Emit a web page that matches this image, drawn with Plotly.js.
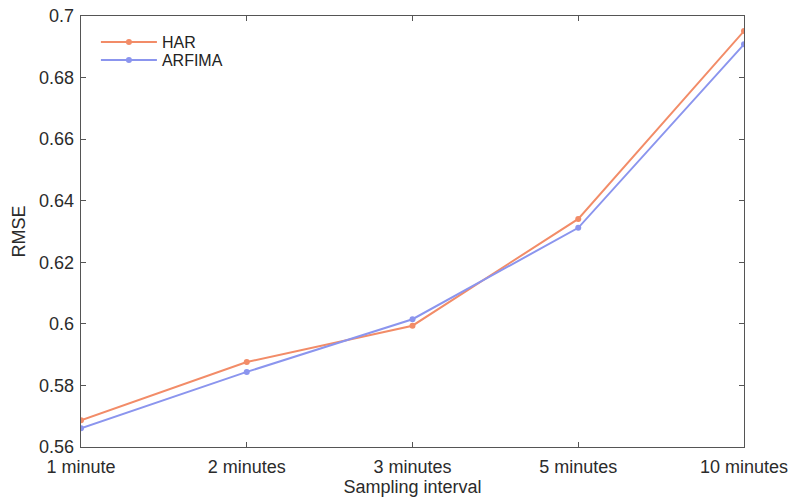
<!DOCTYPE html>
<html>
<head>
<meta charset="utf-8">
<script src="https://cdn.plot.ly/plotly-3.0.1.min.js"></script>
<style>
  html, body { margin: 0; padding: 0; background: #fff; }
  #chart { width: 790px; height: 499px; }
</style>
</head>
<body>
<div id="chart"></div>
<script>
// Sampling intervals on the x axis
const intervals = ["1 minute", "2 minutes", "3 minutes", "5 minutes", "10 minutes"];
// Out-of-sample RMSE per model
const harRmse = [0.5687, 0.5876, 0.5994, 0.6341, 0.6951];
const arfimaRmse = [0.5661, 0.5844, 0.6015, 0.6312, 0.6908];
const yTicks = [0.56, 0.58, 0.6, 0.62, 0.64, 0.66, 0.68, 0.7];
const yTickText = ["0.56", "0.58", "0.6", "0.62", "0.64", "0.66", "0.68", "0.7"];

const family = "Liberation Sans, Arial, Helvetica, sans-serif";
const font = { family: family, size: 18, color: "#2b2b2b" };

const traces = [
  {
    x: intervals, y: harRmse, name: "HAR", type: "scatter", mode: "lines+markers",
    line: { color: "#f28c68", width: 2 },
    marker: { color: "#f28c68", size: 6 },
    legend: "legend"
  },
  {
    x: intervals, y: arfimaRmse, name: "ARFIMA", type: "scatter", mode: "lines+markers",
    line: { color: "#8b95ee", width: 2 },
    marker: { color: "#8b95ee", size: 6 },
    legend: "legend2"
  }
];

const axisCommon = {
  showline: true, linecolor: "#555", linewidth: 1.3, mirror: "ticks",
  ticks: "inside", ticklen: 5, tickcolor: "#555", tickwidth: 1,
  showgrid: false, zeroline: false, tickfont: font
};

// Two stacked legend boxes keep the entries tightly spaced
const legendCommon = {
  x: 0.0225, xanchor: "left", yanchor: "top",
  bgcolor: "rgba(0,0,0,0)", borderwidth: 0,
  font: { family: family, size: 16, color: "#222" },
  itemwidth: 56
};

const layout = {
  width: 790, height: 499,
  margin: { l: 81, r: 46, t: 16, b: 52 },
  paper_bgcolor: "#fff", plot_bgcolor: "#fff",
  font: font,
  showlegend: true,
  legend: Object.assign({}, legendCommon, { y: 0.979 }),
  legend2: Object.assign({}, legendCommon, { y: 0.937 }),
  xaxis: Object.assign({}, axisCommon, {
    type: "category", range: [0, 4],
    ticklabelstandoff: 3,
    title: { text: "Sampling interval", font: font, standoff: 2 },
    tickangle: 0
  }),
  yaxis: Object.assign({}, axisCommon, {
    range: [0.56, 0.7], tickvals: yTicks, ticktext: yTickText,
    ticklabelstandoff: 2,
    title: { text: "RMSE", font: font, standoff: 8 }
  })
};

Plotly.newPlot("chart", traces, layout, { displayModeBar: false, staticPlot: true });
</script>
</body>
</html>
